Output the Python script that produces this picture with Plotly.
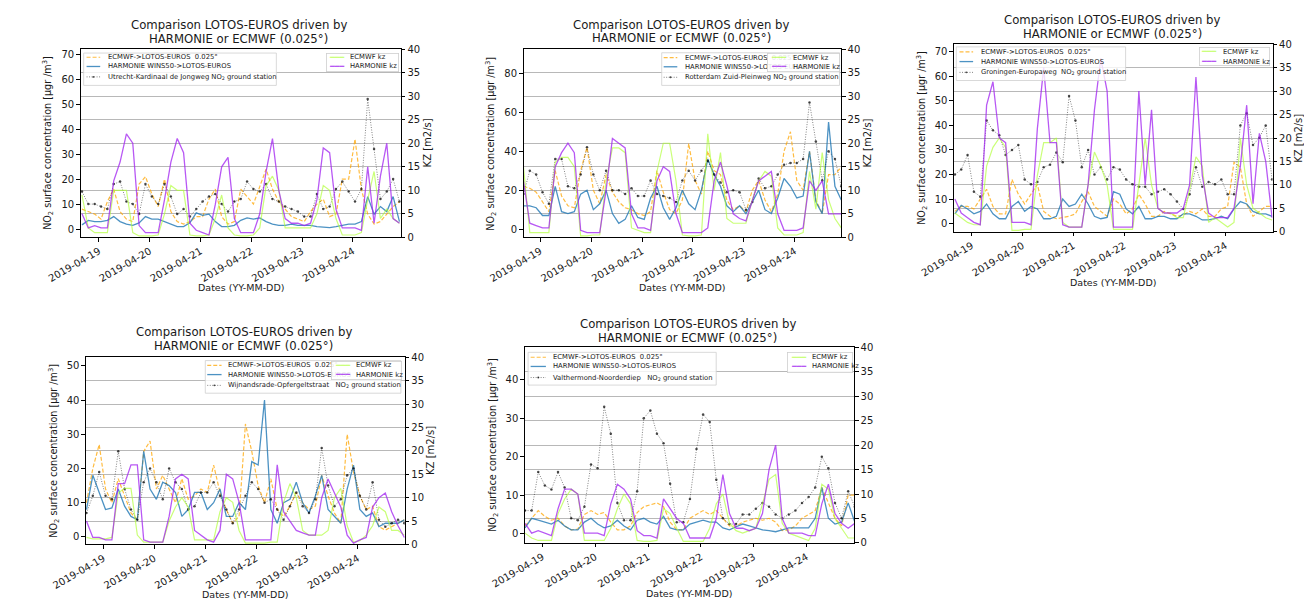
import pandas as pd
import plotly.graph_objects as go

W, H = 1304, 609
FONT = "DejaVu Sans"
TXT = "#1a1a1a"

# ---------------- data ----------------
times = pd.date_range("2019-04-18 16:00", periods=51, freq="3h")
date_ticks = ["2019-04-19", "2019-04-20", "2019-04-21", "2019-04-22", "2019-04-23", "2019-04-24"]

title_lines = ["Comparison LOTOS-EUROS driven by", "HARMONIE or ECMWF (0.025°)"]
legend_left = ["ECMWF->LOTOS-EUROS\u00a0\u00a00.025°", "HARMONIE WINS50->LOTOS-EUROS"]
legend_right = ["ECMWF kz", "HARMONIE kz"]
station_names = [
    "Utrecht-Kardinaal de Jongweg NO<sub>2</sub> ground station",
    "Rotterdam Zuid-Pleinweg NO<sub>2</sub> ground station",
    "Groningen-Europaweg\u00a0\u00a0NO<sub>2</sub> ground station",
    "Wijnandsrade-Opfergeltstraat\u00a0\u00a0\u00a0NO<sub>2</sub> ground station",
    "Valthermond-Noorderdiep\u00a0\u00a0\u00a0NO<sub>2</sub> ground station",
]

# Panel 1 - Utrecht
p1_ecmwf_le = [8,7,6,4,11,16,7,4,3,18,21,14,9,20,7,3,2,3,5,5,12,16,5,2,3,16,13,10,17,24,16,11,8,5,4,3,7,10,12,5,6,20,20,36,16,6,2,3,6,9,11]
p1_harmonie_le = [1.7,3.5,3,3,3.5,5,3,2,1.5,2.5,5,4,4,3,2,1,1,2.5,6.5,5.5,6,3,1,1,1.5,3.5,4.5,4,4.5,3,2,1.5,1.5,2,1.5,1.5,1.5,1,0.8,0.6,1,1.5,2,2,3,13,6,9,7,13,3]
p1_station = [15,10,10,9,8,18,19,11,10,6,18,13,10,18,13,6,8,5,8,11,13,14,10,7,11,12,19,16,15,18,12,11,9,8,7,5,5,14,8,9,16,19,15,11,16,52,32,12,15,20,11]
p1_ecmwf_kz = [9,2,1,1,1,10,10,10,1,0.3,0.3,0.3,0.5,5,11,10,10,0.5,0.3,0.3,0.5,4,9,2,0.5,0.3,0.3,0.5,2,11,13,10,2,2,2,2,2,5,11,10,4,0.5,0.5,0.5,1,8,14,4,6,4,3]
p1_harmonie_kz = [5,2,2.5,2,2,12,16,22,20,2.5,1,1,1,8,16,21,18,3,1.5,1,0.5,7,15,17,4,1,1,1,5,14,21,10,4,3,3,2.5,3,8,19,18,6,2,2,2,1.5,15,3,13,20,4,3]

# Panel 2 - Rotterdam
p2_ecmwf_le = [22,21,19,14,9,30,17,12,11,30,42,20,13,28,19,14,11,10,8,7,9,30,19,10,8,15,44,25,18,40,30,28,15,10,12,9,20,25,15,9,18,40,50,25,20,40,15,8,28,28,32]
p2_harmonie_le = [12,12,11,7,7,22,9,8,9,18,20,10,13,20,8,3,5,12,6,5,16,22,11,5,11,20,13,10,20,36,28,22,12,9,12,8,14,20,10,8,16,26,22,16,17,40,14,8,55,22,15]
p2_station = [18,30,28,19,13,36,36,22,21,28,42,28,20,30,20,20,18,21,17,17,25,18,17,16,14,25,30,25,30,35,28,24,19,20,19,10,14,26,21,22,28,33,34,34,36,65,45,25,40,36,22]
p2_ecmwf_kz = [15,1,1,1,1,16,17,17,15,0.3,0.3,0.5,0.5,12,19,19,18,2,1.5,1,1,14,20,20,12,0.5,0.3,0.3,0.5,22,10,18,4,3,3,3,8,12,14,13,2,0.5,0.5,0.5,1,14,6,18,8,4,2]
p2_harmonie_kz = [12,3,2.5,2,2,15,18,20,18,1.5,1,1,1,10,21,20,19,5,2,2,1.5,12,15,14,5,1,1,1,1,2,12,16,11,5,4,3.5,8,12,13,14,5,1.5,1.5,1.5,2,12,10,12,5,5,5]

# Panel 3 - Groningen
p3_ecmwf_le = [5,7,7,6,10,14,7,4,4,18,12,8,12,16,5,3,2,2.5,3,4,9,13,7,5,3,10,8,4,6,12,8,3,3,5,4,3,3.5,5,4,6,3,3,6,7,25,23,8,3,5,7,7]
p3_harmonie_le = [4,7.5,6,4,5,8,4,2,2,7,9,5,7,6,2,2,3,10,7,8,12,8,3,2,2.5,13,12,6,4,7,2,2,3,3,2,2,4,4,3,1.5,1.5,2,3,2,6,9,8,5,4,4,3]
p3_station = [20,22,28,13,11,42,38,36,28,30,32,18,16,17,23,24,29,25,52,42,23,30,20,23,18,23,22,18,16,15,15,12,13,14,12,9,6,12,23,15,17,16,18,12,12,40,45,32,35,40,18]
p3_ecmwf_kz = [4,3,2,1.5,1.5,14,18,20,18,0.3,0.3,0.5,0.5,12,19,19,20,2,1,1,1,10,17,14,10,0.5,0.5,0.5,0.5,10,20,10,5,4,4,3,3,9,16,14,2,3,2,1,2,20,10,5,4,3,2.5]
p3_harmonie_kz = [7,4,3,2,1.5,27,32,20,19,2,2,2,1.5,22,35,19,19,1.5,1,1,1,10,26,37,30,1,1,1,1,30,10,26,5,4,4,4,5,10,33,12,4,3,3,3,5,14,27,6,21,15,3]

# Panel 4 - Wijnandsrade
p4_ecmwf_le = [10,20,27,14,10,17,12,7,5,25,28,14,18,14,10,17,11,12,14,13,21,13,8,4,6,33,25,15,10,17,8,6,9,13,10,8,9,18,12,7,4,30,19,12,8,9,3,2,3,4,5]
p4_harmonie_le = [8,18,13,8,8.5,14,9,6,5,25,14,11,16,15,13,6,8,13,13,8,10,14,6,6,10,8,22,21,40,8,4,10,11,16,10,7,12,18,8,6,4,14,21,8,6,7,3,4,4,4,5]
p4_station = [7,12,19,12,11,25,14,8,5,16,20,16,11,20,16,14,8,9,13,13,16,12,8,4,8,12,16,14,10,11,8,5,9,13,9,7,11,26,15,9,11,18,20,12,8,16,5,3,4,5,4]
p4_ecmwf_kz = [1.5,1.2,1.2,1.2,1.5,11,12,12,2,0.5,0.5,0.5,0.5,5,8,10,8,1,1,1,1,7,10,9,3,0.3,0.3,0.3,0.3,0.5,0.5,9,13,10,3,2,2,2,3,10,12,4,0.5,0.8,2,4,8,7,3,3,2]
p4_harmonie_kz = [5,1.5,1.5,1,1,13,13,17,17,1,0.5,0.5,0.5,6,14,15,14,3,2,1,0.5,3,15,14,9,1,1,1,1,1,17,7,5,3,2.5,2,2,10,14,11,8,2,0.3,1,1.5,8,10,11,7,4,1.5]

# Panel 5 - Valthermond
p5_ecmwf_le = [2,4,6,4.5,3.5,4,2,1,1.2,5,6,5,5.5,3,1,1,2,5.5,7,7.5,8,7,3,1,1,4,5,6,5,6,4,2,2,3,3.5,4,3.5,4,3,0.8,1,2,4,5,6,12,8,4,2,10,10]
p5_harmonie_le = [1.5,4,3.5,3,2.5,3.5,2,1,1,3,4,2.5,1.5,2,3.5,2,1,3.5,4,3,2.5,4.5,1.5,1,1,2.5,3,3.5,3,3,1.5,1,1.8,2.5,2,1.5,1,0.8,0.5,1,1.5,1.5,1.5,1.5,4,12,4,2.5,3,8,3]
p5_station = [6,6,16,12.5,11.5,16,12,4,3.5,7,18,17,33,26,8,3.5,3.5,11,30,32,26,23.5,13,3,3,9,22,31,29,14,4,2.5,2.5,5,5,6.5,8,7,5,4,5,6,8,9.5,12,20,17,8,4,11,7]
p5_ecmwf_kz = [2,1,0.5,0.5,0.5,6,9,11,10,0.5,0.5,0.5,0.5,3,7,10,8,0.5,0.3,0.3,0.5,7,6,3,0.3,0.3,0.3,0.3,3,8,10,4,2.5,2,2.5,3,8,13,14,4,2,1.5,1,0.5,3,12,11,5,3,1,1]
p5_harmonie_kz = [4,2,2.5,2,1.5,7,11,11,10,2,2,2,1.5,8,12,11,9,2.5,1.5,1.5,1,9,7,5,4,1,1,1,1,5,14,6,3,3,2.5,3,6,15,20,5,2,2,2,1.5,1.5,8,12,6,4,3,4]

series = [
    (p1_ecmwf_le, p1_harmonie_le, p1_station, p1_ecmwf_kz, p1_harmonie_kz),
    (p2_ecmwf_le, p2_harmonie_le, p2_station, p2_ecmwf_kz, p2_harmonie_kz),
    (p3_ecmwf_le, p3_harmonie_le, p3_station, p3_ecmwf_kz, p3_harmonie_kz),
    (p4_ecmwf_le, p4_harmonie_le, p4_station, p4_ecmwf_kz, p4_harmonie_kz),
    (p5_ecmwf_le, p5_harmonie_le, p5_station, p5_ecmwf_kz, p5_harmonie_kz),
]

# ---------------- layout geometry (pixels) ----------------
geom = [
    dict(box=(47, 44, 376, 236), ylim=(-3.3, 72), dtick=10, xlim=(-8.58, 142.68), title=(209.5, 19.5, 33.5),
         legL=dict(box=(50, 48, 248, 81), rows=(52.3, 61.7, 72.3), hx=(53, 67), tx=72.7),
         legR=dict(box=(300, 48, 373, 67), rows=(52.3, 61.7), hx=(302, 317), tx=322), kz=True),
    dict(box=(502, 44, 828.3, 236), ylim=(-4.2, 92.4), dtick=20, xlim=(-7.96, 141.9), title=(664, 19, 33),
         legL=dict(box=(644, 47.7, 826.7, 81), rows=(52.7, 62, 72.7), hx=(646, 660), tx=666),
         legR=dict(box=(753, 47.7, 826.7, 67), rows=(52.7, 62), hx=(756.7, 771), tx=777), kz=True),
    dict(box=(944.3, 39, 1271.7, 230.3), ylim=(-3.3, 73.05), dtick=10, xlim=(-8.44, 142.24), title=(1107, 14.3, 28.7),
         legL=dict(box=(946.7, 41.7, 1120.7, 76), rows=(46.7, 56.7, 67.7), hx=(950, 964), tx=970),
         legR=dict(box=(1196.7, 41.7, 1268.3, 61), rows=(46.7, 56.7), hx=(1199, 1213), tx=1219), kz=True),
    dict(box=(52.3, 358.3, 380, 549.3), ylim=(-2.2, 52.5), dtick=10, xlim=(-8.27, 142.2), title=(214.5, 332.7, 347.2),
         legL=dict(box=(175, 361.7, 376, 395), rows=(366.7, 376, 387), hx=(177, 191.7), tx=196.7),
         legR=dict(box=(305, 361.7, 376, 381), rows=(366.7, 376), hx=(308.3, 323.3), tx=328.3), kz=True),
    dict(box=(503.3, 348.3, 841.7, 547.7), ylim=(-2.4, 48.4), dtick=10, xlim=(-8.12, 141.7), title=(671, 324.3, 338.5),
         legL=dict(box=(506.7, 353.3, 700, 386.7), rows=(358.3, 367.7, 379), hx=(509.3, 525), tx=530),
         legR=dict(box=(773.3, 353.3, 839.3, 374.3), rows=(358.3, 367.7), hx=(777.3, 791), tx=796.7), kz=False),
]

styles = [
    dict(color="rgba(255,165,0,0.75)", width=1.2, dash="4px,2px"),
    dict(color="rgba(31,119,180,0.8)", width=1.3, dash="solid"),
    dict(color="rgba(0,0,0,0.55)", width=0.9, dash="1px,1.5px"),
    dict(color="rgba(173,255,47,0.65)", width=1.2, dash="solid"),
    dict(color="rgba(160,32,240,0.75)", width=1.3, dash="solid"),
]


def fx(px):
    return px / W


def fy(py):
    return 1 - py / H


def tstr(h):
    return (pd.Timestamp("2019-04-19") + pd.Timedelta(hours=h)).strftime("%Y-%m-%d %H:%M:%S")


fig = go.Figure()
annotations = []
shapes = []


def ann(text, px, py, size, xanchor="center", yanchor="middle", angle=0, color=TXT):
    annotations.append(dict(text=text, x=fx(px), y=fy(py), xref="paper", yref="paper",
                            xanchor=xanchor, yanchor=yanchor, showarrow=False, textangle=angle,
                            font=dict(size=size, color=color, family=FONT)))


def legend_box_shape(box):
    x0, y0, x1, y1 = box
    shapes.append(dict(type="rect", xref="paper", yref="paper", x0=fx(x0), x1=fx(x1), y0=fy(y1), y1=fy(y0),
                       line=dict(color="#cfcfcf", width=0.8), fillcolor="rgba(255,255,255,0.8)", layer="above"))


def legend_box_ann(box):
    # drawn as an annotation so it can sit over the neighbouring legend's text
    x0, y0, x1, y1 = box
    annotations.append(dict(text=" ", x=fx((x0 + x1) / 2), y=fy((y0 + y1) / 2), xref="paper", yref="paper",
                            xanchor="center", yanchor="middle", showarrow=False,
                            width=x1 - x0 - 2, height=y1 - y0 - 2, borderpad=0,
                            bgcolor="rgba(255,255,255,0.88)", bordercolor="#cfcfcf", borderwidth=0.8,
                            font=dict(size=6, family=FONT)))


def legend_handle(hx, y, st, dot=False):
    shapes.append(dict(type="line", xref="paper", yref="paper", x0=fx(hx[0]), x1=fx(hx[1]), y0=fy(y), y1=fy(y),
                       line=dict(color=st["color"], width=st["width"], dash=st["dash"]), layer="above"))
    if dot:
        cx = (hx[0] + hx[1]) / 2
        shapes.append(dict(type="circle", xref="paper", yref="paper", x0=fx(cx - 1), x1=fx(cx + 1),
                           y0=fy(y + 1), y1=fy(y - 1), line=dict(width=0), fillcolor="rgba(0,0,0,0.7)",
                           layer="above"))


for k, (g, data) in enumerate(zip(geom, series)):
    xa = "x" if k == 0 else f"x{k + 1}"
    yl = "y" if k == 0 else f"y{2 * k + 1}"
    yr = f"y{2 * k + 2}"
    xkey = "xaxis" if k == 0 else f"xaxis{k + 1}"
    ylkey = "yaxis" if k == 0 else f"yaxis{2 * k + 1}"
    yrkey = f"yaxis{2 * k + 2}"

    for j in range(3):
        st = styles[j]
        fig.add_trace(go.Scatter(
            x=times, y=data[j], xaxis=xa, yaxis=yl, showlegend=False,
            mode="lines+markers" if j == 2 else "lines",
            line=dict(color=st["color"], width=st["width"], dash=st["dash"]),
            marker=dict(size=2.5, color="rgba(0,0,0,0.7)") if j == 2 else None,
            hoverinfo="skip"))
    for j in (3, 4):
        st = styles[j]
        fig.add_trace(go.Scatter(
            x=times, y=data[j], xaxis=xa, yaxis=yr, showlegend=False, mode="lines",
            line=dict(color=st["color"], width=st["width"], dash=st["dash"]), hoverinfo="skip"))

    x0, y0, x1, y1 = g["box"]
    tickfont = dict(size=10, color=TXT, family=FONT)
    fig.layout[xkey] = dict(
        domain=[fx(x0), fx(x1)], anchor=yl, type="date",
        range=[tstr(g["xlim"][0]), tstr(g["xlim"][1])],
        tickmode="array", tickvals=date_ticks, ticktext=date_ticks, tickangle=-30,
        ticks="outside", ticklen=3.5, tickwidth=1, tickcolor="black", tickfont=tickfont,
        showline=True, linecolor="black", linewidth=1, mirror=True, showgrid=False, zeroline=False)
    fig.layout[ylkey] = dict(
        domain=[fy(y1), fy(y0)], anchor=xa, range=list(g["ylim"]), tick0=0, dtick=g["dtick"],
        ticks="outside", ticklen=3.5, tickwidth=1, tickcolor="black", tickfont=tickfont,
        showline=True, linecolor="black", linewidth=1, showgrid=False, zeroline=False)
    fig.layout[yrkey] = dict(
        overlaying=yl, side="right", anchor=xa, range=[0, 40], tick0=0, dtick=5,
        ticks="outside", ticklen=3.5, tickwidth=1, tickcolor="black", tickfont=tickfont,
        showline=True, linecolor="black", linewidth=1, showgrid=True, gridcolor="#b8b8b8",
        gridwidth=1, zeroline=False)

    # texts
    tcx, ty1, ty2 = g["title"]
    ann(title_lines[0], tcx, ty1, 11.7)
    ann(title_lines[1], tcx, ty2, 11.7)
    ann("Dates (YY-MM-DD)", (x0 + x1) / 2, y1 + 51.5, 9.5)
    ann("NO<sub>2</sub> surface concentration [μgr /m<sup>3</sup>]", x0 - 33, (y0 + y1) / 2, 9.6, angle=-90)
    if g["kz"]:
        ann("KZ [m2/s]", x1 + 27, (y0 + y1) / 2, 10, angle=-90)

    # left legend (shapes for box and handles, annotations for text)
    L = g["legL"]
    legend_box_shape(L["box"])
    for j in range(3):
        legend_handle(L["hx"], L["rows"][j], styles[j], dot=(j == 2))
    labels = legend_left + [station_names[k]]
    for j in range(3):
        ann(labels[j], L["tx"], L["rows"][j], 6.8, xanchor="left")

    # right legend (drawn above the left one, as in the reference)
    R = g["legR"]
    legend_box_ann(R["box"])
    for j in range(2):
        st = styles[3 + j]
        ann("\u2501\u2501\u2501", (R["hx"][0] + R["hx"][1]) / 2, R["rows"][j], 7.8, color=st["color"])
        ann(legend_right[j], R["tx"], R["rows"][j], 6.8, xanchor="left")

fig.update_layout(
    width=W, height=H, autosize=False,
    margin=dict(l=0, r=0, t=0, b=0),
    paper_bgcolor="white", plot_bgcolor="white",
    font=dict(family=FONT, color=TXT),
    annotations=annotations, shapes=shapes, showlegend=False,
)

fig.write_html("out.html")
